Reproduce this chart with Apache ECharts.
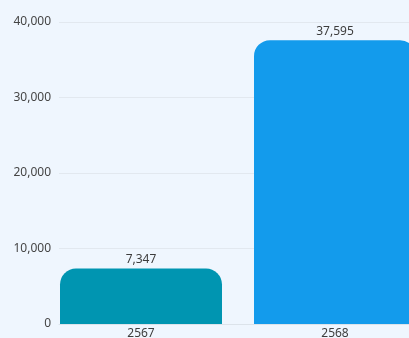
<!DOCTYPE html>
<html>
<head>
<meta charset="utf-8">
<script src="https://cdn.jsdelivr.net/npm/echarts@6/dist/echarts.min.js"></script>
<style>
  html, body { margin: 0; padding: 0; background: #eff6fe; }
  #chart { width: 409px; height: 338px; }
</style>
</head>
<body>
<div id="chart"></div>
<script>
// 数据
const years = ['2567', '2568'];
const values = [7347, 37595];
const barColors = ['#0095b1', '#139bec'];
const yTicks = [0, 10000, 20000, 30000, 40000];

const chart = echarts.init(document.getElementById('chart'));

const fmt = v => v.toLocaleString('en-US');

chart.setOption({
  backgroundColor: '#eff6fe',
  textStyle: { fontFamily: 'Noto Sans' },
  grid: [
    // 坐标轴和网格线
    { left: 59, right: 0, top: 22, bottom: 14, outerBoundsMode: 'none' },
    // 柱子（右边超出画面）
    { left: 44, width: 388, top: 22, bottom: 14, outerBoundsMode: 'none' }
  ],
  xAxis: [
    {
      gridIndex: 0, type: 'value', show: true, min: 0, max: 1,
      axisLabel: { show: false }, axisTick: { show: false }, splitLine: { show: false },
      axisLine: { show: true, lineStyle: { color: '#dce3ea', width: 1 } }
    },
    {
      gridIndex: 1, type: 'category', data: years,
      axisLine: { show: false }, axisTick: { show: false },
      axisLabel: { color: '#3d3d3d', fontSize: 12, margin: 4 }
    }
  ],
  yAxis: [
    {
      gridIndex: 0, type: 'value', min: yTicks[0], max: yTicks[yTicks.length - 1], interval: 10000,
      axisLine: { show: false }, axisTick: { show: false },
      axisLabel: { color: '#454545', fontSize: 12, margin: 8, formatter: v => fmt(v) },
      splitLine: { lineStyle: { color: '#e2e8ef', width: 1 } }
    },
    {
      gridIndex: 1, type: 'value', min: yTicks[0], max: yTicks[yTicks.length - 1], show: false
    }
  ],
  series: [{
    type: 'bar',
    xAxisIndex: 1, yAxisIndex: 1,
    barWidth: 162,
    data: values.map((v, i) => ({ value: v, itemStyle: { color: barColors[i] } })),
    itemStyle: { borderRadius: [16, 16, 0, 0] },
    label: {
      show: true, position: 'top', distance: 3,
      color: '#3d3d3d', fontSize: 12, formatter: p => fmt(p.value)
    }
  }]
});
</script>
</body>
</html>
